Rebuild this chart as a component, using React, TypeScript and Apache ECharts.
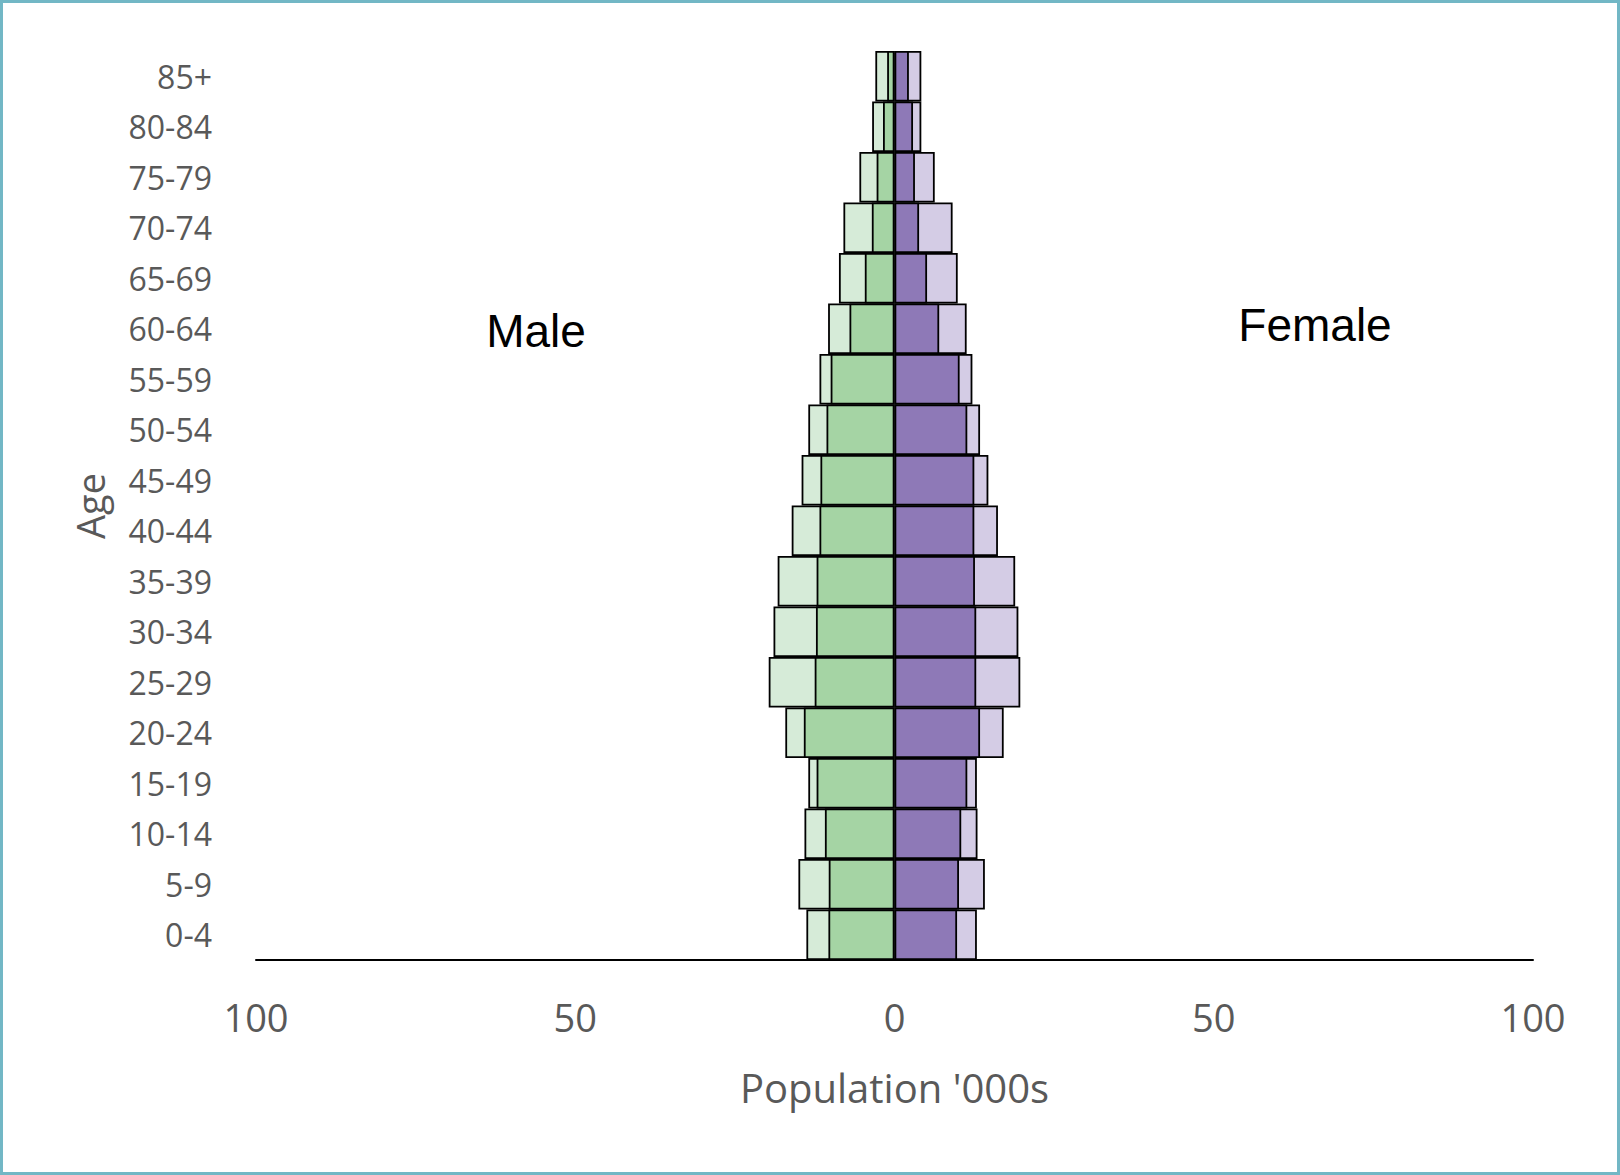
import React, { useEffect, useRef } from "react";
import * as echarts from "echarts";

// Age bands, bottom to top
const ageGroups = [
  "0-4", "5-9", "10-14", "15-19", "20-24", "25-29", "30-34", "35-39", "40-44",
  "45-49", "50-54", "55-59", "60-64", "65-69", "70-74", "75-79", "80-84", "85+",
];

// Population in thousands; the outer (lighter) bars sit behind the inner ones
const maleOuter = [13.8, 15.05, 14.1, 13.5, 17.1, 19.7, 18.95, 18.3, 16.1, 14.55, 13.5, 11.75, 10.4, 8.7, 8.0, 5.5, 3.5, 3.0];
const maleInner = [10.35, 10.3, 10.9, 12.2, 14.2, 12.5, 12.3, 12.2, 11.75, 11.6, 10.65, 10.0, 7.05, 4.65, 3.55, 2.8, 1.8, 1.15];
const femaleOuter = [12.9, 14.15, 13.0, 12.9, 17.1, 19.7, 19.4, 18.9, 16.2, 14.7, 13.4, 12.2, 11.3, 9.9, 9.1, 6.3, 4.2, 4.2];
const femaleInner = [9.8, 10.1, 10.45, 11.4, 13.4, 12.8, 12.8, 12.6, 12.5, 12.5, 11.4, 10.2, 7.0, 5.1, 3.85, 3.2, 2.9, 2.25];

const xTicks = { min: -100, max: 100, interval: 50 };

const W = 1620;
const H = 1175;
const labelFont = "'Open Sans', 'Noto Sans', sans-serif";

export default function App() {
  const ref = useRef<HTMLDivElement>(null);

  useEffect(() => {
    document.body.style.margin = "0";
    if (!ref.current) return;
    const chart = echarts.init(ref.current, null, { renderer: "svg" });

    const barBase = {
      type: "bar" as const,
      barGap: "-100%",
      barCategoryGap: "0%",
      itemStyle: { borderColor: "#000", borderWidth: 1.8 },
    };

    chart.setOption({
      animation: false,
      backgroundColor: "#fff",
      grid: { left: 256, right: 87, top: 51, bottom: 215 },
      xAxis: {
        type: "value",
        min: xTicks.min,
        max: xTicks.max,
        interval: xTicks.interval,
        axisLine: { show: true, lineStyle: { color: "#000", width: 2 } },
        axisTick: { show: false },
        splitLine: { show: false },
        axisLabel: {
          formatter: (v: number) => String(Math.abs(v)),
          fontSize: 38,
          fontFamily: labelFont,
          color: "#595959",
          margin: 38,
        },
        name: "Population '000s",
        nameLocation: "middle",
        nameGap: 107,
        nameTextStyle: { fontSize: 40, fontFamily: labelFont, color: "#595959" },
      },
      yAxis: {
        type: "category",
        data: ageGroups,
        axisLine: { show: false },
        axisTick: { show: false },
        splitLine: { show: false },
        axisLabel: {
          fontSize: 32,
          fontFamily: labelFont,
          color: "#595959",
          margin: 44,
        },
      },
      series: [
        { ...barBase, name: "Male total", data: maleOuter.map((v) => -v), itemStyle: { ...barBase.itemStyle, color: "#d6ebd8" } },
        { ...barBase, name: "Female total", data: femaleOuter, itemStyle: { ...barBase.itemStyle, color: "#d4cce5" } },
        { ...barBase, name: "Male", data: maleInner.map((v) => -v), itemStyle: { ...barBase.itemStyle, color: "#a5d4a4" } },
        { ...barBase, name: "Female", data: femaleInner, itemStyle: { ...barBase.itemStyle, color: "#8e79b7" } },
      ],
      graphic: [
        {
          type: "rect",
          shape: { x: 1.5, y: 1.5, width: W - 3, height: H - 3 },
          style: { fill: "none", stroke: "#72b7c5", lineWidth: 3 },
          silent: true,
        },
        {
          type: "text",
          x: 90,
          y: 506,
          rotation: Math.PI / 2,
          style: {
            text: "Age",
            fontSize: 38,
            fontFamily: labelFont,
            fill: "#595959",
            align: "center",
            verticalAlign: "middle",
          },
        },
        {
          type: "text",
          x: 536,
          y: 331,
          style: {
            text: "Male",
            fontSize: 46,
            fontFamily: "'Liberation Sans', Arial, sans-serif",
            fill: "#000",
            align: "center",
            verticalAlign: "middle",
          },
        },
        {
          type: "text",
          x: 1315,
          y: 325,
          style: {
            text: "Female",
            fontSize: 46,
            fontFamily: "'Liberation Sans', Arial, sans-serif",
            fill: "#000",
            align: "center",
            verticalAlign: "middle",
          },
        },
      ],
    });

    return () => chart.dispose();
  }, []);

  return <div ref={ref} style={{ width: W, height: H }} />;
}
